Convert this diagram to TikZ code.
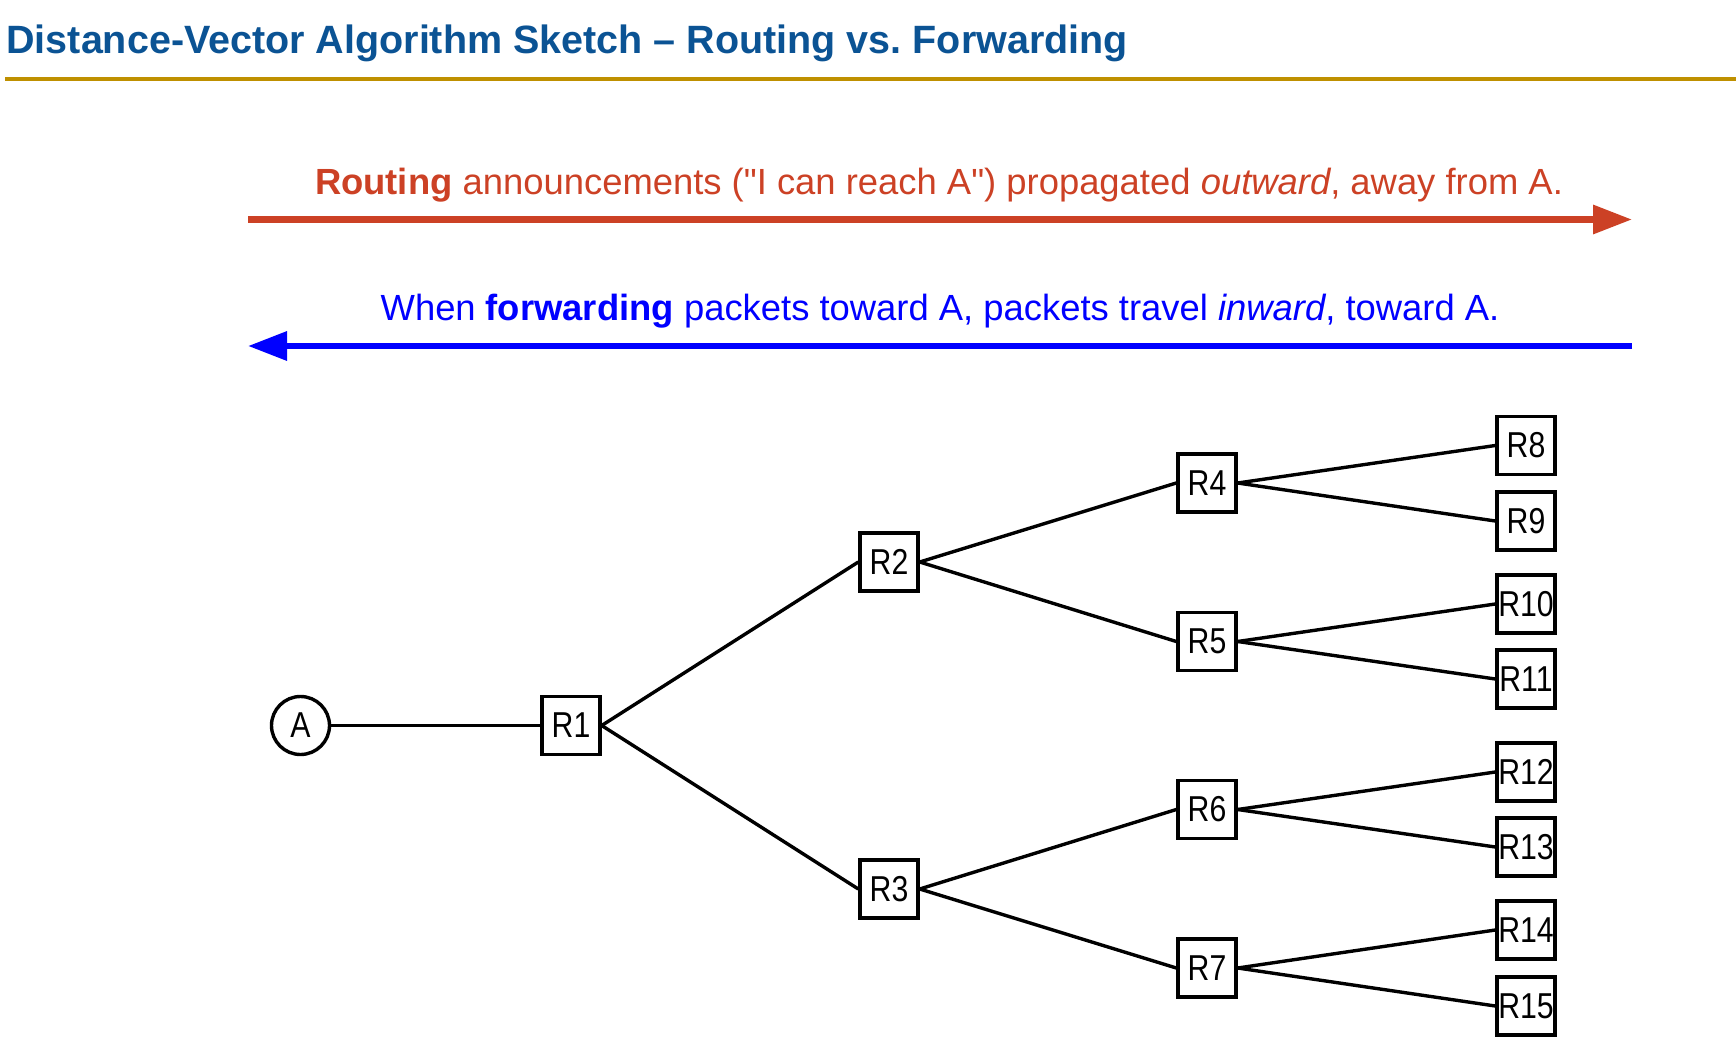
\documentclass[tikz,border=0pt]{standalone}
\usepackage{fontspec}
\setmainfont{Liberation Sans}
\newfontfamily\routerfont{Liberation Sans}[FakeStretch=0.84]
\usetikzlibrary{arrows.meta}
\definecolor{titleblue}{RGB}{11,83,148}
\definecolor{ruleGold}{RGB}{191,144,0}
\definecolor{routeRed}{RGB}{204,65,37}
\definecolor{fwdBlue}{RGB}{0,0,255}
% straight double quote, past the TeX ligature mapping
\newcommand\straightdq{{\XeTeXglyph\XeTeXcharglyph"22\relax}}
\tikzset{
  router/.style={draw,line width=1.7pt,rectangle,minimum width=29pt,minimum height=29pt,inner sep=0pt,font=\routerfont\fontsize{18}{20}\selectfont},
  dest/.style={draw,line width=1.7pt,circle,minimum size=29pt,inner sep=0pt,font=\routerfont\fontsize{18}{20}\selectfont},
  link/.style={line width=1.7pt}
}
\begin{document}
\frenchspacing
\begin{tikzpicture}[x=0.5pt,y=-0.5pt]
  \useasboundingbox (0,0) rectangle (1736,1049);
  % title and rule
  \node (title) at (6,54) [anchor=base west,inner sep=0pt,text=titleblue,font=\bfseries\fontsize{19.75}{22}\selectfont] {Distance-Vector Algorithm Sketch -- Routing vs.\ Forwarding};
  \coordinate (rule0) at (5,79);
  \coordinate (rule1) at (1736,79);
  \draw [ruleGold,line width=2pt] (rule0) -- (rule1);
  % direction arrows
  \coordinate (rt0) at (248,219.5);
  \coordinate (rt1) at (1632,219.5);
  \draw [routeRed,line width=3.2pt,-{Triangle[length=19.5pt,width=14pt]}] (rt0) -- (rt1);
  \node (rtlabel) at (939,194) [anchor=base,inner sep=0pt,text=routeRed,font=\fontsize{18.2}{20}\selectfont] {\textbf{Routing} announcements (\straightdq I can reach A\straightdq) propagated \textit{outward}, away from A.};
  \coordinate (fw0) at (1632,346);
  \coordinate (fw1) at (248,346);
  \draw [fwdBlue,line width=3.2pt,-{Triangle[length=19.5pt,width=14pt]}] (fw0) -- (fw1);
  \node (fwlabel) at (940,320) [anchor=base,inner sep=0pt,text=fwdBlue,font=\fontsize{18.2}{20}\selectfont] {When \textbf{forwarding} packets toward A, packets travel \textit{inward}, toward A.};
  % tree
  \node (A) at (300.5,725.5) [dest] {A};
  \node (R1) at (571,725.5) [router] {R1};
  \node (R2) at (889,562) [router] {R2};
  \node (R3) at (889,889) [router] {R3};
  \node (R4) at (1207,483) [router] {R4};
  \node (R5) at (1207,641.5) [router] {R5};
  \node (R6) at (1207,809.5) [router] {R6};
  \node (R7) at (1207,968) [router] {R7};
  \node (R8) at (1526,445.5) [router] {R8};
  \node (R9) at (1526,521) [router] {R9};
  \node (R10) at (1526,604) [router] {R10};
  \node (R11) at (1526,679) [router] {R11};
  \node (R12) at (1526,772) [router] {R12};
  \node (R13) at (1526,847) [router] {R13};
  \node (R14) at (1526,930) [router] {R14};
  \node (R15) at (1526,1006) [router] {R15};
  \draw [link] (A) -- (R1);
  \draw [link] (R1.east) -- (R2.west);
  \draw [link] (R1.east) -- (R3.west);
  \draw [link] (R2.east) -- (R4.west);
  \draw [link] (R2.east) -- (R5.west);
  \draw [link] (R3.east) -- (R6.west);
  \draw [link] (R3.east) -- (R7.west);
  \draw [link] (R4.east) -- (R8.west);
  \draw [link] (R4.east) -- (R9.west);
  \draw [link] (R5.east) -- (R10.west);
  \draw [link] (R5.east) -- (R11.west);
  \draw [link] (R6.east) -- (R12.west);
  \draw [link] (R6.east) -- (R13.west);
  \draw [link] (R7.east) -- (R14.west);
  \draw [link] (R7.east) -- (R15.west);
\end{tikzpicture}
\end{document}
